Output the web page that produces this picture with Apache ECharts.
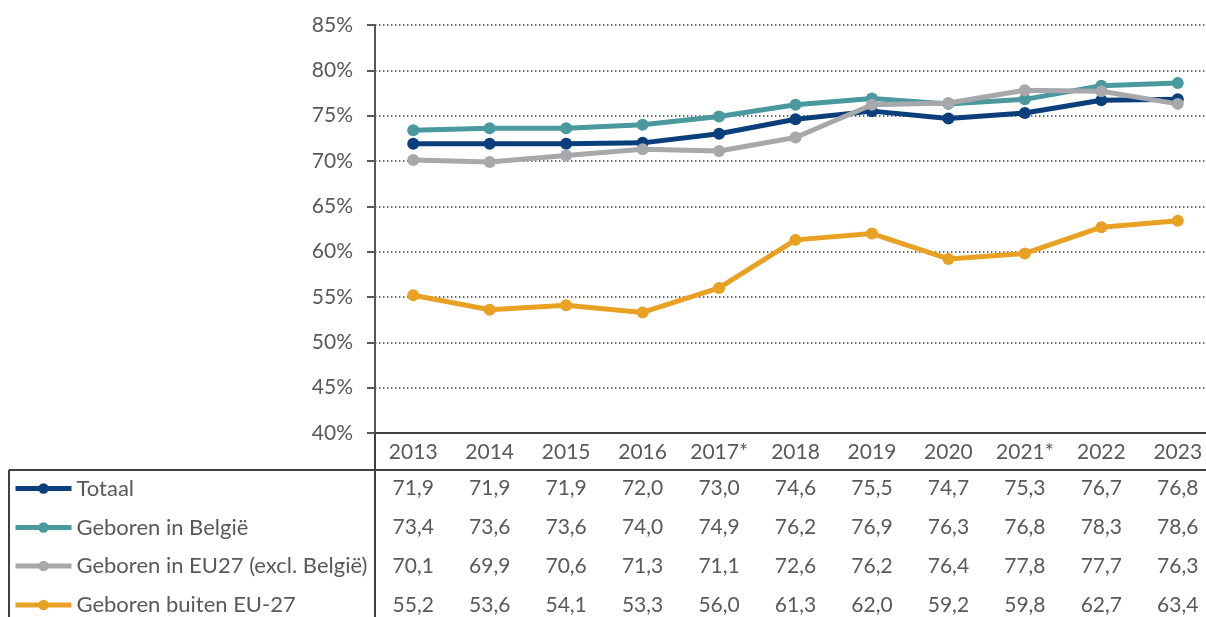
<!DOCTYPE html>
<html>
<head>
<meta charset="utf-8">
<script src="https://cdn.jsdelivr.net/npm/echarts@6/dist/echarts.min.js"></script>
<style>
html,body{margin:0;padding:0;background:#fff;}
#chart{width:1206px;height:617px;}
</style>
</head>
<body>
<div id="chart"></div>
<script>
const years = ['2013','2014','2015','2016','2017*','2018','2019','2020','2021*','2022','2023'];
const seriesNames = ['Totaal','Geboren in België','Geboren in EU27 (excl. België)','Geboren buiten EU-27'];
const totaal = [71.9,71.9,71.9,72.0,73.0,74.6,75.5,74.7,75.3,76.7,76.8];
const belgie = [73.4,73.6,73.6,74.0,74.9,76.2,76.9,76.3,76.8,78.3,78.6];
const eu27 = [70.1,69.9,70.6,71.3,71.1,72.6,76.2,76.4,77.8,77.7,76.3];
const buitenEU = [55.2,53.6,54.1,53.3,56.0,61.3,62.0,59.2,59.8,62.7,63.4];
const yTicks = {min:40, max:85, interval:5};

const allValues = [totaal, belgie, eu27, buitenEU];
const colors = ['#0B3F7B','#4A999F','#A6A8AC','#E9A124'];
const FONT = 'Lato';
const TXT = '#595959';
const NUMSIZE = 21;
const fmt = v => v.toFixed(1).replace('.', ',');

const chart = echarts.init(document.getElementById('chart'), null, {renderer:'canvas'});

const gridLeft = 375, gridTop = 25, gridW = 841, gridH = 408;
const rowOffsets = [35, 74, 112.5, 151.5];
const rowCenters = rowOffsets.map(o => gridTop + gridH + o + 20.5);

const xAxes = [{
  type:'category', data:years, gridIndex:0, position:'bottom',
  axisLine:{show:true, lineStyle:{color:'#404040', width:2}},
  axisTick:{show:false},
  axisLabel:{color:TXT, fontSize:NUMSIZE, fontFamily:FONT, margin:9},
  splitLine:{show:false}
}];
allValues.forEach((vals, i) => {
  xAxes.push({
    type:'category', data:years, gridIndex:0, position:'bottom', offset:rowOffsets[i],
    axisLine:{show:false}, axisTick:{show:false}, splitLine:{show:false},
    axisLabel:{color:TXT, fontSize:NUMSIZE, fontFamily:FONT, margin:10,
      formatter:(v, idx) => fmt(vals[idx])}
  });
});

const legends = seriesNames.map((n, i) => ({
  data:[n], orient:'vertical', left:13, top:rowCenters[i] - 11, padding:0,
  itemWidth:56, itemHeight:13, selectedMode:false,
  lineStyle:{width:5},
  textStyle:{color:TXT, fontSize:22, fontFamily:FONT}
}));

const option = {
  animation:false,
  backgroundColor:'#fff',
  grid:{left:gridLeft, top:gridTop, width:gridW, height:gridH, containLabel:false, outerBoundsMode:'none'},
  legend:legends,
  xAxis:xAxes,
  yAxis:{
    type:'value', min:yTicks.min, max:yTicks.max, interval:yTicks.interval,
    axisLine:{show:true, lineStyle:{color:'#595959', width:2}},
    axisTick:{show:true, length:8, lineStyle:{color:'#595959', width:2}},
    axisLabel:{color:TXT, fontSize:NUMSIZE, fontFamily:FONT, margin:22, formatter:'{value}%'},
    splitLine:{show:true, lineStyle:{color:'#3a3a3a', width:1.5, type:[1.4,2.6]}}
  },
  series: allValues.map((vals, i) => ({
    name:seriesNames[i], type:'line', data:vals, xAxisIndex:0,
    symbol:'circle', symbolSize:12, showSymbol:true,
    lineStyle:{color:colors[i], width:5},
    itemStyle:{color:colors[i]},
    z:2+i
  })),
  graphic:[
    {type:'line', shape:{x1:9, y1:470, x2:1206, y2:470}, style:{stroke:'#404040', lineWidth:2}},
    {type:'line', shape:{x1:9, y1:470, x2:9, y2:617}, style:{stroke:'#404040', lineWidth:2}},
    {type:'line', shape:{x1:375, y1:433, x2:375, y2:617}, style:{stroke:'#404040', lineWidth:2}}
  ]
};
chart.setOption(option);
</script>
</body>
</html>
